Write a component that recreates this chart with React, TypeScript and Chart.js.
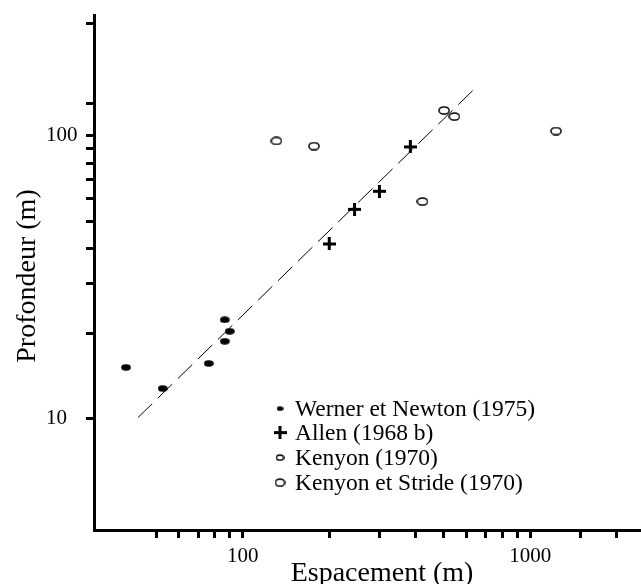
import React, { useEffect, useRef } from 'react';
import { Chart, registerables } from 'chart.js';

Chart.register(...registerables);

// ---- data ----
const wernerX = [39.3, 52.7, 76.2, 86.6, 90.1, 86.6];
const wernerY = [15.2, 12.8, 15.7, 22.4, 20.4, 18.8];
const allenX = [200, 245, 299, 383];
const allenY = [41.5, 55.0, 63.7, 91.4];
const kenyonX = [131, 177, 422];
const kenyonY = [96, 92, 58.6];
const kenyonStrideX = [502, 545, 1230];
const kenyonStrideY = [123, 117, 104];
const trendX = [43.2, 649];
const trendY = [10.1, 148.6];
const seriesLabels = ['Werner et Newton (1975)', 'Allen (1968 b)', 'Kenyon (1970)', 'Kenyon et Stride (1970)'];
const xTickValues = [50, 60, 70, 80, 90, 100, 200, 300, 400, 500, 600, 700, 800, 900, 1000, 1500, 2000];
const xTickLabels = [100, 1000];
const yTickValues = [10, 20, 30, 40, 50, 60, 70, 80, 90, 100, 130, 250];
const yTickLabels = [10, 100];
const xTitle = 'Espacement (m)';
const yTitle = 'Profondeur (m)';

const FONT = '"Liberation Serif", "Times New Roman", serif';

function makeMarker(w: number, h: number, draw: (ctx: CanvasRenderingContext2D) => void) {
  const c = document.createElement('canvas');
  c.width = w;
  c.height = h;
  const ctx = c.getContext('2d') as CanvasRenderingContext2D;
  draw(ctx);
  return c;
}

function dot(w: number, h: number) {
  return makeMarker(w, h, (ctx) => {
    ctx.fillStyle = '#000';
    ctx.beginPath();
    ctx.ellipse(w / 2, h / 2, w / 2 - 0.2, h / 2 - 0.2, 0, 0, Math.PI * 2);
    ctx.fill();
  });
}
function ring(w: number, h: number) {
  return makeMarker(w, h, (ctx) => {
    ctx.strokeStyle = '#000';
    ctx.lineWidth = 1.5;
    ctx.beginPath();
    ctx.ellipse(w / 2, h / 2, w / 2 - 0.9, h / 2 - 0.9, 0, 0, Math.PI * 2);
    ctx.stroke();
  });
}
function plus(s: number) {
  return makeMarker(s, s, (ctx) => {
    ctx.strokeStyle = '#000';
    ctx.lineWidth = 3;
    ctx.beginPath();
    ctx.moveTo(0, s / 2);
    ctx.lineTo(s, s / 2);
    ctx.moveTo(s / 2, 0);
    ctx.lineTo(s / 2, s);
    ctx.stroke();
  });
}

export default function App() {
  const ref = useRef<HTMLCanvasElement | null>(null);

  useEffect(() => {
    const canvas = ref.current;
    if (!canvas) return;
    const dotM = dot(10, 7);
    const plusM = plus(13);
    const ringM = ring(12, 9);
    const legendMarkers = [dot(7, 5), plus(13), ring(9, 7), ring(11, 9)];

    const toPts = (xs: number[], ys: number[]) => xs.map((x, i) => ({ x, y: ys[i] }));

    const legendPlugin = {
      id: 'customLegendTitles',
      afterDraw(chart: any) {
        const ctx = chart.ctx as CanvasRenderingContext2D;
        const ca = chart.chartArea;
        ctx.save();
        ctx.fillStyle = '#000';
        // legend
        ctx.font = `23.5px ${FONT}`;
        ctx.textAlign = 'left';
        ctx.textBaseline = 'alphabetic';
        const baselines = [400, 424, 449, 474];
        seriesLabels.forEach((lab, i) => {
          const by = ca.top + baselines[i];
          const m = legendMarkers[i];
          ctx.drawImage(m, ca.left + 186 - m.width / 2, by - 7 - m.height / 2);
          ctx.fillText(lab, ca.left + 201, by);
        });
        // x title
        ctx.font = `28px ${FONT}`;
        ctx.textAlign = 'center';
        ctx.fillText(xTitle, 382, 581);
        // y title
        ctx.translate(35, 276);
        ctx.rotate(-Math.PI / 2);
        ctx.fillText(yTitle, 0, 0);
        ctx.restore();
      },
    };

    const chart = new Chart(canvas, {
      type: 'scatter',
      data: {
        datasets: [
          { label: seriesLabels[0], data: toPts(wernerX, wernerY), pointStyle: dotM as any, pointRadius: 5 },
          { label: seriesLabels[1], data: toPts(allenX, allenY), pointStyle: plusM as any, pointRadius: 6 },
          { label: seriesLabels[2], data: toPts(kenyonX, kenyonY), pointStyle: ringM as any, pointRadius: 5 },
          { label: seriesLabels[3], data: toPts(kenyonStrideX, kenyonStrideY), pointStyle: ringM as any, pointRadius: 5 },
          {
            label: 'trend',
            data: toPts(trendX, trendY),
            showLine: true,
            borderColor: '#000',
            borderWidth: 1,
            borderDash: [20, 8],
            pointRadius: 0,
            order: 10,
          } as any,
        ],
      },
      options: {
        responsive: false,
        animation: false,
        events: [],
        layout: { padding: { left: 46, top: 12, right: 0, bottom: 0 } },
        plugins: { legend: { display: false }, tooltip: { enabled: false } },
        scales: {
          x: {
            type: 'logarithmic',
            min: 30.4,
            max: 2410,
            afterFit: (s: any) => { s.height = 54; },
            afterBuildTicks: (s: any) => { s.ticks = xTickValues.map((v) => ({ value: v })); },
            ticks: {
              autoSkip: false,
              maxRotation: 0,
              color: '#000',
              padding: 6,
              font: { family: FONT, size: 21 },
              callback: (v: any) => (xTickLabels.includes(Number(v)) ? String(v) : ''),
            },
            grid: { display: true, drawOnChartArea: false, drawTicks: true, tickLength: 8, lineWidth: 3, color: '#000' },
            border: { display: true, width: 3, color: '#000' },
          },
          y: {
            type: 'logarithmic',
            min: 4.05,
            max: 266,
            afterFit: (s: any) => { s.width = 48; },
            afterBuildTicks: (s: any) => { s.ticks = yTickValues.map((v) => ({ value: v })); },
            ticks: {
              autoSkip: false,
              color: '#000',
              crossAlign: 'far',
              font: { family: FONT, size: 21 },
              callback: (v: any) => (yTickLabels.includes(Number(v)) ? String(v) : ''),
            },
            grid: { display: true, drawOnChartArea: false, drawTicks: true, tickLength: 8, lineWidth: 3, color: '#000' },
            border: { display: true, width: 3, color: '#000' },
          },
        },
      },
      plugins: [legendPlugin],
    });
    return () => chart.destroy();
  }, []);

  return (
    <div style={{ position: 'absolute', left: 0, top: 0, width: 641, height: 584, overflow: 'hidden', background: '#fff' }}>
      <canvas ref={ref} width={647} height={584} style={{ display: 'block' }} />
    </div>
  );
}
